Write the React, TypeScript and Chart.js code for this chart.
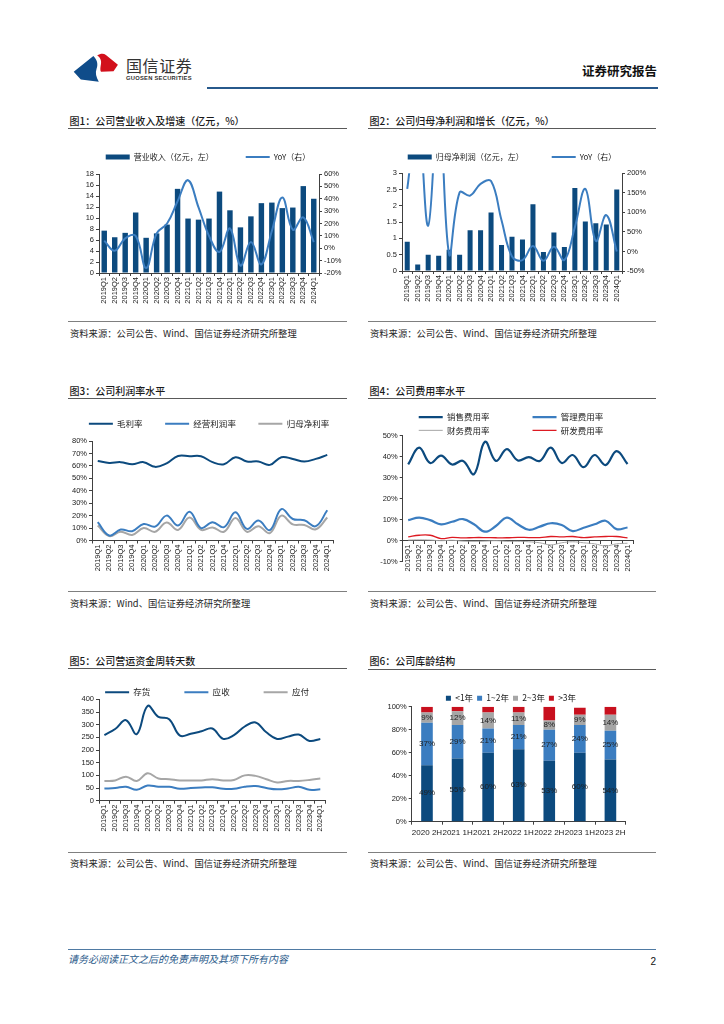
import React, { useEffect, useRef } from 'react';
import { Chart, registerables } from 'chart.js';

Chart.register(...registerables);

// ---------------- data ----------------
const quarters = ['2019Q1', '2019Q2', '2019Q3', '2019Q4', '2020Q1', '2020Q2', '2020Q3', '2020Q4', '2021Q1', '2021Q2', '2021Q3', '2021Q4', '2022Q1', '2022Q2', '2022Q3', '2022Q4', '2023Q1', '2023Q2', '2023Q3', '2023Q4', '2024Q1'];

const revenue = [7.7, 6.5, 7.3, 11.0, 6.4, 7.2, 8.8, 15.3, 9.9, 9.7, 9.9, 14.8, 11.4, 8.3, 10.3, 12.7, 12.8, 11.8, 11.9, 15.8, 13.5];
const revenueYoY = [6, -2, 8, 10, -16, 12, 20, 38, 55, 33, 10, -3, 16, -14, 5, -13, 14, 41, 15, 25, 5];

const netProfit = [0.9, 0.2, 0.5, 0.47, 0.65, 0.5, 1.25, 1.25, 1.8, 0.8, 1.05, 0.97, 2.05, 0.58, 1.18, 0.74, 2.55, 1.52, 1.47, 1.43, 2.5];
const netProfitYoY = [160, 350, 66, 400, -7, 151, 143, 173, 180, 80, -13, -22, 14, -24, 12, -22, 62, 160, 27, 93, 0];

const grossMargin = [64, 62.4, 63, 61.3, 63, 59.2, 62, 68, 67.8, 67.8, 63, 61.3, 67, 63.5, 63.5, 60.8, 67, 65.6, 63.5, 65.6, 68.8];
const operatingMargin = [14.7, 4, 8.8, 7.5, 13.3, 11.2, 20, 12, 23.2, 10, 14.7, 10.7, 22.7, 9.3, 16, 8.3, 25.3, 17.3, 16.3, 11.5, 24.3];
const netMargin = [12, 3.5, 7, 4.5, 10, 7, 14.5, 8.5, 18.5, 8.5, 10.5, 7, 18, 7, 11.5, 6, 20, 13, 12.5, 9, 18.5];

const sellingRate = [36.3, 44.3, 37, 40.5, 36.3, 38, 31.7, 47.1, 38, 43.6, 38.2, 39.8, 38, 44.3, 37, 40.8, 35, 40.8, 36, 42.7, 36.5];
const adminRate = [9.8, 11, 9.8, 7.8, 9, 10.3, 7.8, 4.3, 7, 11, 7.8, 5.2, 6.7, 8.3, 7.5, 4.6, 6.2, 7.8, 9.5, 5.5, 6.3];
const financeRate = [0.3, 0.4, 0.3, 0, 0.2, -0.2, -0.3, -0.2, 0, -0.3, -0.3, -0.5, -1, -2, -1, -0.5, -1, -1.5, -2.5, -1.5, -1.2];
const rdRate = [1.8, 2.6, 2.6, 1, 1.6, 1.3, 1.5, 1.5, 1.4, 1.4, 1.6, 1.5, 1.5, 2, 1.8, 2, 1.5, 1.8, 2, 2, 1.3];

const inventoryDays = [259, 283, 318, 263, 374, 331, 322, 257, 264, 274, 285, 244, 259, 293, 309, 270, 244, 253, 261, 236, 244];
const receivableDays = [48, 50, 55, 43, 60, 55, 55, 47, 50, 52, 53, 47, 47, 55, 58, 50, 45, 48, 55, 43, 45];
const payableDays = [78, 80, 95, 78, 108, 88, 85, 80, 80, 80, 85, 80, 82, 100, 98, 85, 72, 78, 78, 82, 88];

const ageCategories = ['2020 2H', '2021 1H', '2021 2H', '2022 1H', '2022 2H', '2023 1H', '2023 2H'];
const ageUnder1 = [49, 55, 60, 63, 53, 60, 54];
const age1to2 = [37, 29, 21, 21, 27, 24, 25];
const age2to3 = [9, 12, 14, 11, 8, 9, 14];
const ageOver3 = [5, 4, 5, 5, 12, 6, 7];

// axis ranges (tick labels)
const revenueAxis = { min: 0, max: 18, step: 2 };
const revenueYoYAxis = { min: -20, max: 60, step: 10 };
const profitAxis = { min: 0, max: 3, step: 0.5 };
const profitYoYAxis = { min: -50, max: 200, step: 50 };
const marginAxis = { min: 0, max: 80, step: 10 };
const expenseAxis = { min: -10, max: 50, step: 10 };
const daysAxis = { min: 0, max: 400, step: 50 };
const ageAxis = { min: 0, max: 100, step: 20 };

// ---------------- styles ----------------
const NAVY = '#0c4a7e';
const BLUE = '#3b7dc0';
const GRAY = '#a6a6a6';
const RED = '#c8101e';
const RD_RED = '#dd1a22';
const AXIS = '#404040';
const TICK_COLOR = '#1a1a1a';
const TICK_FAMILY = '"Liberation Sans", Arial, sans-serif';
const CJK = '"Noto Sans CJK SC", "Noto Sans", sans-serif';

// ---------------- plugins ----------------
const legendHeightPlugin = {
  id: 'legendHeight',
  beforeLayout(chart: any, _args: any, opts: any) {
    const lg = chart.legend;
    if (!lg || lg.__fixed || !opts || opts.height == null) return;
    const h = opts.height;
    const fit = lg.fit.bind(lg);
    lg.fit = function () {
      fit();
      this.height = h;
    };
    lg.__fixed = true;
  },
  afterLayout(chart: any, _args: any, opts: any) {
    const lg = chart.legend;
    if (!lg || !opts || opts.centerX == null) return;
    const dx = opts.centerX - (lg.left + lg.right) / 2;
    lg.left += dx;
    lg.right += dx;
  },
};

const barLabelsPlugin = {
  id: 'barLabels',
  afterDatasetsDraw(chart: any, _args: any, opts: any) {
    const list: number[] = (opts && opts.datasets) || [];
    const ctx = chart.ctx;
    ctx.save();
    ctx.font = `8px ${TICK_FAMILY}`;
    ctx.fillStyle = '#1f1f1f';
    ctx.textAlign = 'center';
    ctx.textBaseline = 'middle';
    list.forEach((di) => {
      const meta = chart.getDatasetMeta(di);
      const ds = chart.data.datasets[di];
      meta.data.forEach((el: any, i: number) => {
        const p = el.getProps(['x', 'y', 'base'], true);
        ctx.fillText(`${ds.data[i]}%`, p.x, (p.y + p.base) / 2);
      });
    });
    ctx.restore();
  },
};

// ---------------- helpers ----------------
type Range = { min: number; max: number; step: number };

function yScale(range: Range, suffix: string, width: number, position: 'left' | 'right', stacked = false) {
  return {
    type: 'linear',
    position,
    stacked,
    min: range.min,
    max: range.max,
    ticks: {
      stepSize: range.step,
      autoSkip: false,
      font: { family: TICK_FAMILY, size: 7.5 },
      color: TICK_COLOR,
      padding: 2,
      callback: (v: number) => `${v}${suffix}`,
    },
    grid: { drawOnChartArea: false, drawTicks: true, tickLength: 3, color: AXIS, lineWidth: 1 },
    border: { display: true, color: AXIS, width: 1 },
    afterFit: (s: any) => {
      s.width = width;
      s.paddingTop = 0;
      s.paddingBottom = 0;
    },
  };
}

function xScale(rotate: boolean, height: number, padRight: number, fontSize: number, position: any = 'bottom', stacked = false) {
  return {
    type: 'category',
    position,
    stacked,
    offset: true,
    ticks: {
      autoSkip: false,
      minRotation: rotate ? 90 : 0,
      maxRotation: rotate ? 90 : 0,
      font: { family: TICK_FAMILY, size: fontSize },
      color: TICK_COLOR,
      padding: rotate ? 1 : 3,
    },
    grid: { offset: true, drawOnChartArea: false, drawTicks: true, tickLength: 3, color: AXIS, lineWidth: 1 },
    border: { display: true, color: AXIS, width: 1 },
    afterFit: (s: any) => {
      if (height > 0) s.height = height;
      s.paddingLeft = 0;
      s.paddingRight = padRight;
    },
  };
}

type LegendStyle = 'rect' | 'line' | 'box';

function legendOpts(fs: number, pad: number, styles: LegendStyle[], suffixes: string[] = []) {
  const usePointStyle = styles[0] !== 'box';
  return {
    display: true,
    position: 'top',
    align: 'center',
    labels: {
      font: { family: CJK, size: fs },
      color: '#1a1a1a',
      padding: pad,
      usePointStyle,
      pointStyleWidth: usePointStyle ? 24 : undefined,
      boxWidth: usePointStyle ? 24 : 5,
      boxHeight: 5,
      sort: (a: any, b: any) => a.datasetIndex - b.datasetIndex,
      generateLabels: (chart: any) => {
        const items = (Chart.defaults.plugins.legend.labels as any).generateLabels(chart);
        return items.map((it: any) => {
          const i = it.datasetIndex;
          const ds = chart.data.datasets[i];
          const st = styles[i];
          return {
            ...it,
            text: it.text + (suffixes[i] || ''),
            pointStyle: st === 'rect' ? 'rect' : 'line',
            lineWidth: st === 'line' ? ds.borderWidth : 0,
            strokeStyle: ds.borderColor || ds.backgroundColor,
            fillStyle: ds.backgroundColor,
          };
        });
      },
    },
  };
}

function lineDs(label: string, data: number[], color: string, width: number, extra: any = {}) {
  return {
    type: 'line',
    label,
    data,
    borderColor: color,
    backgroundColor: color,
    borderWidth: width,
    pointRadius: 0,
    pointHoverRadius: 0,
    tension: 0.4,
    fill: false,
    ...extra,
  };
}

const baseOptions = {
  animation: false,
  responsive: false,
  maintainAspectRatio: false,
  events: [],
};

// ---------------- geometry ----------------
type Geo = {
  cx: number; // canvas left
  w: number; // canvas width
  legendCY: number;
  fs: number;
  pad: number;
  area: { l: number; r: number; t: number; b: number };
  xh: number;
};

function geo(g: Geo) {
  const top = Math.round(g.legendCY - g.pad - g.fs / 2);
  const legendH = g.area.t - top;
  const leftW = g.area.l - g.cx;
  const rightW = g.cx + g.w - g.area.r;
  const h = Math.ceil(g.area.b - top + g.xh);
  const xh = h - (g.area.b - top);
  return { top, legendH, leftW, rightW, h, xh };
}

const g1: Geo = { cx: 58, w: 300, legendCY: 157, fs: 8, pad: 32, area: { l: 99, r: 319, t: 174, b: 273 }, xh: 33 };
const g2: Geo = { cx: 362, w: 300, legendCY: 157, fs: 8, pad: 28, area: { l: 402, r: 622, t: 173.3, b: 271 }, xh: 33 };
const g3: Geo = { cx: 59, w: 300, legendCY: 424, fs: 8.5, pad: 22.5, area: { l: 92, r: 333, t: 441, b: 540.5 }, xh: 33 };
const g5: Geo = { cx: 57, w: 300, legendCY: 692, fs: 8.5, pad: 34, area: { l: 99, r: 325.7, t: 699.4, b: 800.7 }, xh: 33 };
const g6: Geo = { cx: 361, w: 300, legendCY: 698, fs: 8.5, pad: 4, area: { l: 411.7, r: 625.7, t: 706.7, b: 821.7 }, xh: 20 };

// ---------------- chart configs ----------------
function cfg1() {
  const d = geo(g1);
  return {
    type: 'bar',
    data: {
      labels: quarters,
      datasets: [
        { type: 'bar', label: '营业收入（亿元，左）', data: revenue, backgroundColor: NAVY, borderWidth: 0, yAxisID: 'y', order: 1, barPercentage: 0.52, categoryPercentage: 1 },
        lineDs('YoY（右）', revenueYoY, BLUE, 2, { yAxisID: 'y1', order: 0 }),
      ],
    },
    options: {
      ...baseOptions,
      layout: { padding: 0 },
      plugins: {
        legend: legendOpts(g1.fs, g1.pad, ['rect', 'line']),
        tooltip: { enabled: false },
        legendHeight: { height: d.legendH },
      },
      scales: {
        x: xScale(true, d.xh, 0, 7.5),
        y: yScale(revenueAxis, '', d.leftW, 'left'),
        y1: yScale(revenueYoYAxis, '%', d.rightW, 'right'),
      },
    },
    plugins: [legendHeightPlugin],
  };
}

function cfg2() {
  const d = geo(g2);
  return {
    type: 'bar',
    data: {
      labels: quarters,
      datasets: [
        { type: 'bar', label: '归母净利润（亿元，左）', data: netProfit, backgroundColor: NAVY, borderWidth: 0, yAxisID: 'y', order: 1, barPercentage: 0.48, categoryPercentage: 1 },
        lineDs('YoY（右）', netProfitYoY, BLUE, 2, { yAxisID: 'y1', order: 0 }),
      ],
    },
    options: {
      ...baseOptions,
      layout: { padding: 0 },
      plugins: {
        legend: legendOpts(g2.fs, g2.pad, ['rect', 'line']),
        tooltip: { enabled: false },
        legendHeight: { height: d.legendH },
      },
      scales: {
        x: xScale(true, d.xh, 0, 7.5),
        y: yScale(profitAxis, '', d.leftW, 'left'),
        y1: yScale(profitYoYAxis, '%', d.rightW, 'right'),
      },
    },
    plugins: [legendHeightPlugin],
  };
}

function cfg3() {
  const d = geo(g3);
  return {
    type: 'line',
    data: {
      labels: quarters,
      datasets: [
        lineDs('毛利率', grossMargin, NAVY, 2),
        lineDs('经营利润率', operatingMargin, BLUE, 2),
        lineDs('归母净利率', netMargin, GRAY, 2),
      ],
    },
    options: {
      ...baseOptions,
      layout: { padding: 0 },
      plugins: {
        legend: legendOpts(g3.fs, g3.pad, ['line', 'line', 'line']),
        tooltip: { enabled: false },
        legendHeight: { height: d.legendH },
      },
      scales: {
        x: xScale(true, d.xh, d.rightW, 7.5),
        y: yScale(marginAxis, '%', d.leftW, 'left'),
      },
    },
    plugins: [legendHeightPlugin],
  };
}

// chart 4: x axis crosses at 0, two-row legend
const g4 = { cx: 366, w: 294, legendCX: 511, legendCY: 416.7, fs: 8.5, pad: 4.8, area: { l: 402.7, r: 633, t: 435.7, b: 561.7 }, bottomRoom: 16 };
const g4top = Math.round(g4.legendCY - g4.pad - g4.fs / 2);
const g4h = Math.ceil(g4.area.b - g4top + g4.bottomRoom);

function cfg4() {
  const legendH = g4.area.t - g4top;
  const leftW = g4.area.l - g4.cx;
  const padR = g4.cx + g4.w - g4.area.r;
  const padB = g4h - (g4.area.b - g4top);
  const gap = '\u3000\u3000\u3000\u3000\u2002';
  return {
    type: 'line',
    data: {
      labels: quarters,
      datasets: [
        lineDs('销售费用率', sellingRate, NAVY, 2.2),
        lineDs('管理费用率', adminRate, BLUE, 2.2),
        lineDs('财务费用率', financeRate, GRAY, 1),
        lineDs('研发费用率', rdRate, RD_RED, 1.3),
      ],
    },
    options: {
      ...baseOptions,
      layout: { padding: { left: 0, right: padR, top: 0, bottom: padB } },
      plugins: {
        legend: legendOpts(g4.fs, g4.pad, ['line', 'line', 'line', 'line'], [gap, '', gap, '']),
        tooltip: { enabled: false },
        legendHeight: { height: legendH, centerX: g4.legendCX - g4.cx },
      },
      scales: {
        x: xScale(true, 0, 0, 7.5, { y: 0 }),
        y: yScale(expenseAxis, '%', leftW, 'left'),
      },
    },
    plugins: [legendHeightPlugin],
  };
}

function cfg5() {
  const d = geo(g5);
  return {
    type: 'line',
    data: {
      labels: quarters,
      datasets: [
        lineDs('存货', inventoryDays, NAVY, 2),
        lineDs('应收', receivableDays, BLUE, 2),
        lineDs('应付', payableDays, GRAY, 2),
      ],
    },
    options: {
      ...baseOptions,
      layout: { padding: 0 },
      plugins: {
        legend: legendOpts(g5.fs, g5.pad, ['line', 'line', 'line']),
        tooltip: { enabled: false },
        legendHeight: { height: d.legendH },
      },
      scales: {
        x: xScale(true, d.xh, d.rightW, 7.5),
        y: yScale(daysAxis, '', d.leftW, 'left'),
      },
    },
    plugins: [legendHeightPlugin],
  };
}

function cfg6() {
  const d = geo(g6);
  const bar = (label: string, data: number[], color: string) => ({
    type: 'bar',
    label,
    data,
    backgroundColor: color,
    borderWidth: 0,
    barPercentage: 0.38,
    categoryPercentage: 1,
  });
  return {
    type: 'bar',
    data: {
      labels: ageCategories,
      datasets: [
        bar('<1年', ageUnder1, NAVY),
        bar('1~2年', age1to2, BLUE),
        bar('2~3年', age2to3, GRAY),
        bar('>3年', ageOver3, RED),
      ],
    },
    options: {
      ...baseOptions,
      layout: { padding: 0 },
      plugins: {
        legend: legendOpts(g6.fs, g6.pad, ['box', 'box', 'box', 'box']),
        tooltip: { enabled: false },
        legendHeight: { height: d.legendH },
        barLabels: { datasets: [0, 1, 2] },
      },
      scales: {
        x: xScale(false, d.xh, d.rightW, 8, 'bottom', true),
        y: yScale(ageAxis, '%', d.leftW, 'left', true),
      },
    },
    plugins: [legendHeightPlugin, barLabelsPlugin],
  };
}

// ---------------- components ----------------
function ChartCanvas({ x, y, w, h, make }: { x: number; y: number; w: number; h: number; make: () => any }) {
  const ref = useRef<HTMLCanvasElement>(null);
  useEffect(() => {
    if (!ref.current) return;
    const chart = new Chart(ref.current, make());
    return () => chart.destroy();
  }, []);
  return (
    <canvas
      ref={ref}
      width={w}
      height={h}
      style={{ position: 'absolute', left: x, top: y, width: w, height: h }}
    />
  );
}

function Txt({ x, right, cy, size, color = '#1a1a1a', weight = 400, italic = false, family = CJK, spacing = 0, children }: any) {
  const h = Math.ceil(size * 1.5);
  const style: any = {
    position: 'absolute',
    top: cy - h / 2,
    height: h,
    lineHeight: `${h}px`,
    fontSize: size,
    color,
    fontWeight: weight,
    fontStyle: italic ? 'italic' : 'normal',
    fontFamily: family,
    letterSpacing: spacing,
    whiteSpace: 'nowrap',
  };
  if (right != null) style.right = 724 - right;
  else style.left = x;
  return <div style={style}>{children}</div>;
}

function HLine({ x, y, w, h = 1, color }: any) {
  return <div style={{ position: 'absolute', left: x, top: y, width: w, height: h, background: color }} />;
}

function Logo() {
  return (
    <svg style={{ position: 'absolute', left: 71, top: 53 }} width={48} height={30} viewBox="0 0 44 27">
      <path d="M2.5 17 L20.5 2.5 C24 6 25 10 23.5 14 C22 18 23 22 25.5 26 L9 24 Z" fill="#0f4c8a" />
      <path d="M24 2 C27 0 30 0 32 1.5 L43 10.5 L39 16.5 L27.5 17 C26 14 28 10 27.5 7 C27 5 26 3 24 2 Z" fill="#d2101c" />
    </svg>
  );
}

function Panel({ left, titleCY, lineY, srcLineY, srcCY, title, source }: any) {
  const x0 = left ? 68 : 368;
  const w = left ? 279 : 288;
  return (
    <>
      <Txt x={x0 + 1.5} cy={titleCY} size={10} weight={500} color="#1a1a1a">{title}</Txt>
      <HLine x={x0} y={lineY} w={w} h={1.3} color="#595959" />
      <HLine x={x0} y={srcLineY} w={w} h={1} color="#7f7f7f" />
      <Txt x={x0 + 2} cy={srcCY} size={9.3} color="#262626">{source}</Txt>
    </>
  );
}

const SRC = '资料来源：公司公告、Wind、国信证券经济研究所整理';
const SRC3 = '资料来源：Wind、国信证券经济研究所整理';

export default function App() {
  const d1 = geo(g1);
  const d2 = geo(g2);
  const d3 = geo(g3);
  const d5 = geo(g5);
  const d6 = geo(g6);
  return (
    <div style={{ position: 'absolute', left: 0, top: 0, width: 724, height: 1024, background: '#fff', overflow: 'hidden', fontFamily: CJK }}>
      {/* header */}
      <Logo />
      <Txt x={126} cy={65} size={16} color="#333" spacing={0.6}>国信证券</Txt>
      <Txt x={126} cy={78.3} size={5.8} color="#333" weight={700} family={TICK_FAMILY} spacing={0.25}>GUOSEN SECURITIES</Txt>
      <HLine x={207} y={86.5} w={451} h={2.5} color="#27598c" />
      <Txt right={657} cy={70} size={12.5} weight={700} color="#111">证券研究报告</Txt>

      {/* panels */}
      <Panel left titleCY={120} lineY={127.5} srcLineY={320.5} srcCY={333} title="图1：公司营业收入及增速（亿元，%）" source={SRC} />
      <Panel left={false} titleCY={120} lineY={127.5} srcLineY={320.5} srcCY={333} title="图2：公司归母净利润和增长（亿元，%）" source={SRC} />
      <Panel left titleCY={390} lineY={397.5} srcLineY={590.5} srcCY={603} title="图3：公司利润率水平" source={SRC3} />
      <Panel left={false} titleCY={390} lineY={397.5} srcLineY={590.5} srcCY={603} title="图4：公司费用率水平" source={SRC} />
      <Panel left titleCY={660} lineY={668} srcLineY={851.5} srcCY={863} title="图5：公司营运资金周转天数" source={SRC} />
      <Panel left={false} titleCY={660} lineY={668.5} srcLineY={851.5} srcCY={863} title="图6：公司库龄结构" source={SRC} />

      {/* charts */}
      <ChartCanvas x={g1.cx} y={d1.top} w={g1.w} h={d1.h} make={cfg1} />
      <ChartCanvas x={g2.cx} y={d2.top} w={g2.w} h={d2.h} make={cfg2} />
      <ChartCanvas x={g3.cx} y={d3.top} w={g3.w} h={d3.h} make={cfg3} />
      <ChartCanvas x={g4.cx} y={g4top} w={g4.w} h={g4h} make={cfg4} />
      <ChartCanvas x={g5.cx} y={d5.top} w={g5.w} h={d5.h} make={cfg5} />
      <ChartCanvas x={g6.cx} y={d6.top} w={g6.w} h={d6.h} make={cfg6} />

      {/* footer */}
      <HLine x={68} y={948.5} w={588} h={1} color="#4f7aa3" />
      <Txt x={68} cy={958} size={10} italic color="#2a5a8a">请务必阅读正文之后的免责声明及其项下所有内容</Txt>
      <Txt right={656} cy={961} size={10} color="#111" family={TICK_FAMILY}>2</Txt>
    </div>
  );
}
